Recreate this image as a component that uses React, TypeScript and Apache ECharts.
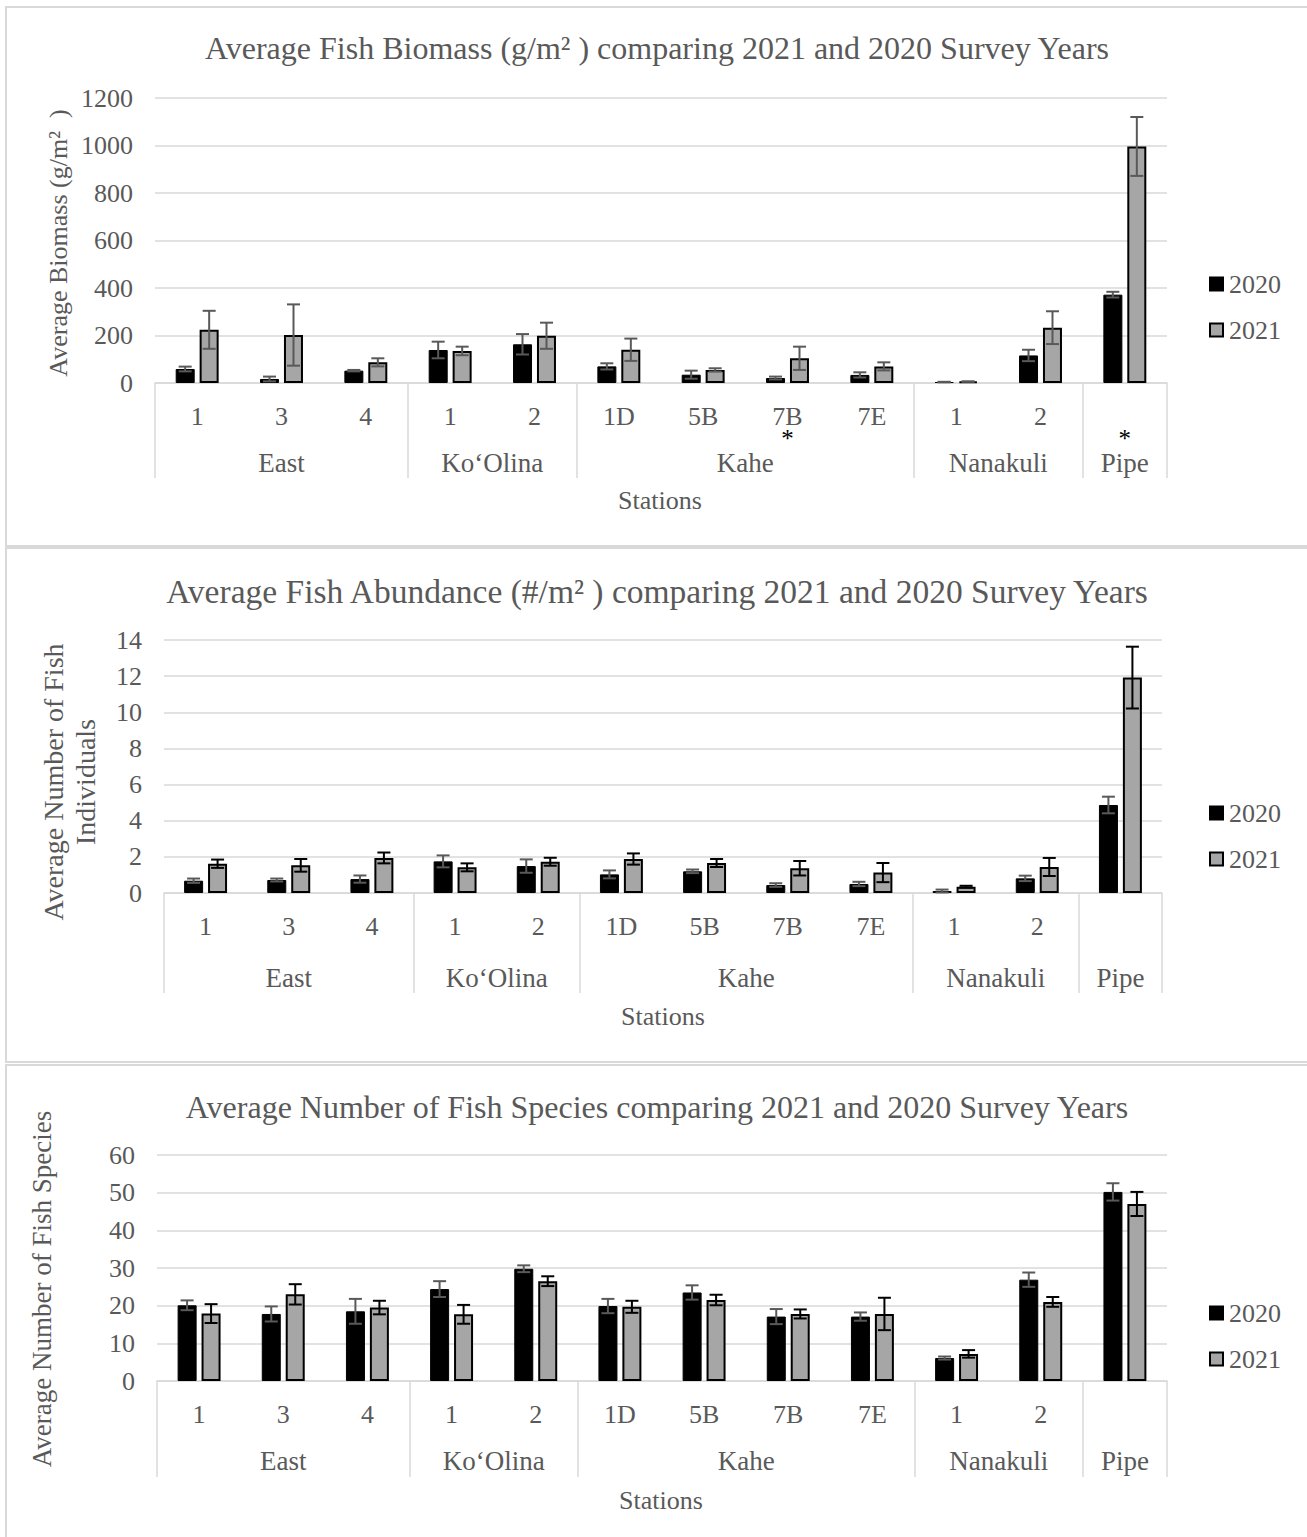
import React, { useEffect, useRef } from "react";
import * as echarts from "echarts";

// ---------- data ----------
const stations = ["1", "3", "4", "1", "2", "1D", "5B", "7B", "7E", "1", "2", ""];
const groupNames = ["East", "Ko‘Olina", "Kahe", "Nanakuli", "Pipe"];
const groupSizes = [3, 2, 4, 2, 1];
const years = ["2020", "2021"];

// Biomass (g/m²)
const biomass2020 = [59, 17, 52, 139, 163, 70, 35, 21, 34, 4, 116, 372];
const biomassErr2020 = [10, 10, 3, 35, 43, 13, 17, 6, 11, 1, 24, 12];
const biomass2021 = [224, 202, 87, 135, 199, 140, 55, 104, 70, 6, 233, 996];
const biomassErr2021 = [80, 129, 17, 18, 55, 47, 7, 49, 17, 1, 69, 124];
const biomassMarks = ["", "", "", "", "", "", "", "*", "", "", "", "*"];

// Abundance (#/m²)
const abund2020 = [0.68, 0.72, 0.77, 1.75, 1.49, 1.03, 1.2, 0.44, 0.5, 0.11, 0.81, 4.87];
const abundErr2020 = [0.12, 0.08, 0.2, 0.33, 0.37, 0.22, 0.1, 0.1, 0.12, 0.08, 0.15, 0.46];
const abund2021 = [1.62, 1.53, 1.94, 1.42, 1.73, 1.88, 1.66, 1.37, 1.13, 0.35, 1.44, 11.92];
const abundErr2021 = [0.23, 0.35, 0.3, 0.22, 0.22, 0.31, 0.22, 0.4, 0.53, 0.05, 0.5, 1.71];
const noMarks = ["", "", "", "", "", "", "", "", "", "", "", ""];

// Species (count)
const species2020 = [20.1, 17.8, 18.5, 24.4, 29.8, 19.9, 23.5, 17.1, 17.1, 6.1, 26.9, 50.2];
const speciesErr2020 = [1.3, 2.0, 3.3, 2.1, 0.9, 1.9, 1.9, 2.0, 1.1, 0.4, 1.9, 2.3];
const species2021 = [17.9, 23.0, 19.5, 17.7, 26.5, 19.7, 21.5, 17.8, 17.8, 7.2, 21.0, 47.0];
const speciesErr2021 = [2.5, 2.7, 1.8, 2.5, 1.3, 1.6, 1.4, 1.2, 4.3, 1.0, 1.3, 3.2];

const titles = [
  "Average Fish Biomass (g/m² ) comparing 2021 and 2020 Survey Years",
  "Average Fish Abundance (#/m² ) comparing 2021 and 2020 Survey Years",
  "Average Number of Fish Species comparing 2021 and 2020 Survey Years",
];
const yTitles = [
  "Average Biomass (g/m²  )",
  "Average Number of Fish\nIndividuals",
  "Average Number of Fish Species",
];
const xTitle = "Stations";

// ---------- styling / layout ----------
const FONT = '"Liberation Serif", "Times New Roman", serif';
const TXT = "#595959";
const LINE = "#d9d9d9";

const panels = [
  {
    m20: biomass2020, e20: biomassErr2020, m21: biomass2021, e21: biomassErr2021, marks: biomassMarks,
    max: 1200, interval: 200,
    grid: { left: 155, top: 98, width: 1012, height: 285 },
    title: { x: 657, y: 48, size: 32 }, yTitle: { x: 58, y: 243, size: 26 }, xTitle: { x: 660, y: 500 },
    legendTop: 271, sepLen: 95, err21Color: "#595959",
    box: { y: 7, h: 539 },
  },
  {
    m20: abund2020, e20: abundErr2020, m21: abund2021, e21: abundErr2021, marks: noMarks,
    max: 14, interval: 2,
    grid: { left: 164, top: 640, width: 998, height: 253 },
    title: { x: 657, y: 591, size: 33.5 }, yTitle: { x: 69, y: 782, size: 28 }, xTitle: { x: 663, y: 1016 },
    legendTop: 800, sepLen: 100, err21Color: "#000",
    box: { y: 548, h: 514 },
  },
  {
    m20: species2020, e20: speciesErr2020, m21: species2021, e21: speciesErr2021, marks: noMarks,
    max: 60, interval: 10,
    grid: { left: 157, top: 1155, width: 1010, height: 226 },
    title: { x: 657, y: 1107, size: 32 }, yTitle: { x: 42, y: 1289, size: 27 }, xTitle: { x: 661, y: 1500 },
    legendTop: 1300, sepLen: 96, err21Color: "#000",
    box: { y: 1065, h: 480 },
  },
];

// group axis with half-category slots
const totalSlots = groupSizes.reduce((a, b) => a + b, 0) * 2;
const groupSlots: string[] = Array.from({ length: totalSlots + 1 }, () => "");
const boundarySlots = new Set<number>([0]);
{
  let acc = 0;
  groupSizes.forEach((n, gi) => {
    groupSlots[acc * 2 + n] = groupNames[gi];
    acc += n;
    boundarySlots.add(acc * 2);
  });
}

function errSeries(mean: number[], err: number[], p: number, offset: number, color: string, width: number) {
  return {
    type: "custom",
    xAxisIndex: p * 2,
    yAxisIndex: p,
    z: 5,
    silent: true,
    data: mean.map((m, i) => [i, Math.max(0, m - err[i]), m + err[i]]),
    encode: { x: 0, y: 2 },
    renderItem: (params: any, api: any) => {
      const idx = api.value(0);
      const hi = api.coord([idx, api.value(2)]);
      const lo = api.coord([idx, api.value(1)]);
      const x = hi[0] + offset;
      const h = 6.5;
      const style = { stroke: color, lineWidth: width };
      return {
        type: "group",
        children: [
          { type: "line", shape: { x1: x, y1: hi[1], x2: x, y2: lo[1] }, style },
          { type: "line", shape: { x1: x - h, y1: hi[1], x2: x + h, y2: hi[1] }, style },
          { type: "line", shape: { x1: x - h, y1: lo[1], x2: x + h, y2: lo[1] }, style },
        ],
      };
    },
  };
}

function buildOption() {
  const grid: any[] = [];
  const xAxis: any[] = [];
  const yAxis: any[] = [];
  const series: any[] = [];
  const legend: any[] = [];
  const graphic: any[] = [];

  panels.forEach((p, pi) => {
    graphic.push({
      type: "rect",
      shape: { x: 6, y: p.box.y, width: 1310, height: p.box.h },
      style: { fill: "none", stroke: LINE, lineWidth: 2 },
      silent: true,
    });
    graphic.push({
      type: "text", x: p.title.x, y: p.title.y,
      style: { text: titles[pi], font: `${p.title.size}px ${FONT}`, fill: TXT, textAlign: "center", textVerticalAlign: "middle" },
    });
    graphic.push({
      type: "text", x: p.yTitle.x, y: p.yTitle.y, rotation: Math.PI / 2,
      style: { text: yTitles[pi], font: `${p.yTitle.size}px ${FONT}`, fill: TXT, textAlign: "center", textVerticalAlign: "middle", lineHeight: 32 },
    });
    graphic.push({
      type: "text", x: p.xTitle.x, y: p.xTitle.y,
      style: { text: xTitle, font: `26px ${FONT}`, fill: TXT, textAlign: "center", textVerticalAlign: "middle" },
    });

    grid.push({ ...p.grid, containLabel: false });

    xAxis.push({
      type: "category",
      gridIndex: pi,
      position: "bottom",
      offset: 0,
      data: stations.map((s, i) => (p.marks[i] ? `{st|${s}}\n{mk|${p.marks[i]}}` : `{st|${s}}`)),
      axisLine: { show: true, lineStyle: { color: LINE, width: 1.5 } },
      axisTick: { show: false },
      axisLabel: {
        interval: 0, margin: 20, fontSize: 26, fontFamily: FONT, color: TXT,
        rich: {
          st: { fontSize: 26, fontFamily: FONT, color: TXT, lineHeight: 26 },
          mk: { fontSize: 25, fontFamily: FONT, color: "#000", lineHeight: 14, padding: [5, 0, 0, 0] },
        },
      },
      splitLine: { show: false },
    });
    xAxis.push({
      type: "category",
      gridIndex: pi,
      position: "bottom",
      offset: 0,
      boundaryGap: false,
      data: groupSlots,
      axisLine: { show: false },
      axisTick: {
        show: true,
        inside: false,
        length: p.sepLen,
        interval: (i: number) => boundarySlots.has(i),
        lineStyle: { color: LINE, width: 1.5 },
      },
      axisLabel: { interval: 0, margin: pi === 1 ? 71 : 66, fontSize: 27, fontFamily: FONT, color: TXT },
      splitLine: { show: false },
    });

    yAxis.push({
      type: "value",
      gridIndex: pi,
      min: 0,
      max: p.max,
      interval: p.interval,
      axisLine: { show: false },
      axisTick: { show: false },
      axisLabel: { margin: 22, fontSize: 26, fontFamily: FONT, color: TXT, formatter: (v: number) => String(v) },
      splitLine: { lineStyle: { color: LINE, width: 1.5 } },
    });

    series.push({
      name: years[0], type: "bar", xAxisIndex: pi * 2, yAxisIndex: pi,
      data: p.m20, barWidth: 19, barGap: "26%",
      itemStyle: { color: "#000", borderColor: "#000", borderWidth: 1 },
    });
    series.push({
      name: years[1], type: "bar", xAxisIndex: pi * 2, yAxisIndex: pi,
      data: p.m21, barWidth: 19, barGap: "26%",
      itemStyle: { color: "#a6a6a6", borderColor: "#000", borderWidth: 2 },
    });
    series.push(errSeries(p.m20, p.e20, pi, -12, "#595959", 2));
    series.push(errSeries(p.m21, p.e21, pi, 12, p.err21Color, 2));

    legend.push({
      data: years,
      orient: "vertical",
      left: 1209,
      top: p.legendTop,
      padding: 0,
      icon: "rect",
      itemWidth: 13,
      itemHeight: 13,
      itemGap: 20,
      selectedMode: false,
      textStyle: { fontSize: 26, fontFamily: FONT, color: TXT, padding: [0, 0, 0, 1] },
    });
  });

  return {
    animation: false,
    backgroundColor: "#fff",
    textStyle: { fontFamily: FONT },
    grid, xAxis, yAxis, series, legend, graphic,
  };
}

export default function App() {
  const ref = useRef<HTMLDivElement>(null);
  useEffect(() => {
    if (!ref.current) return;
    const chart = echarts.init(ref.current, undefined, { renderer: "svg" });
    chart.setOption(buildOption() as any);
    return () => chart.dispose();
  }, []);
  return (
    <div
      ref={ref}
      style={{ position: "absolute", left: 0, top: 0, width: 1307, height: 1537, background: "#fff" }}
    />
  );
}
